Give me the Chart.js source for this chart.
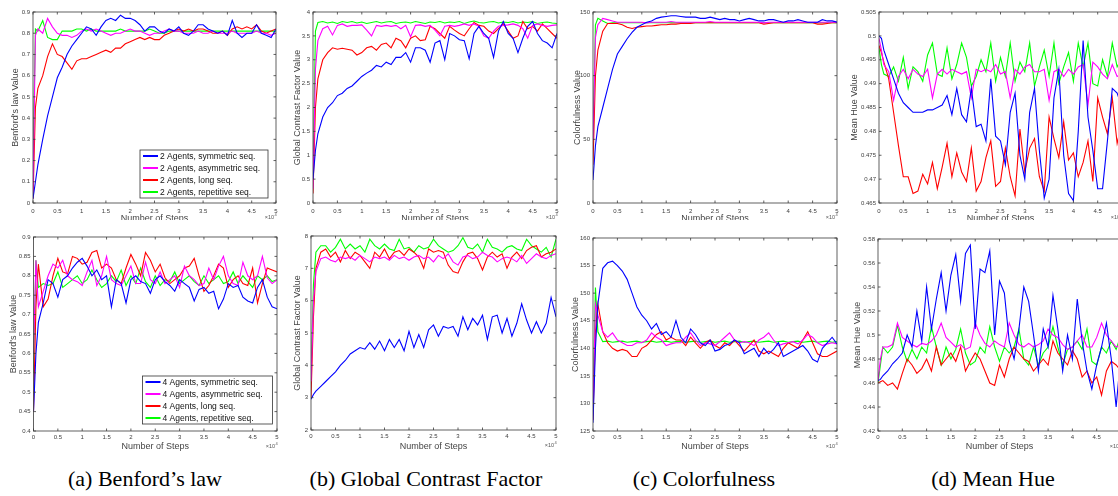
<!DOCTYPE html>
<html><head><meta charset="utf-8">
<script src="https://cdn.jsdelivr.net/npm/chart.js@4.4.1/dist/chart.umd.min.js"></script>
<style>
html,body{margin:0;padding:0;background:#fff;overflow:hidden;}
#page{position:relative;width:1118px;height:496px;overflow:hidden;background:#fff;}
#toprow{position:absolute;left:0;top:0;width:1118px;height:220px;overflow:hidden;}
canvas{position:absolute;}
.cap{position:absolute;top:466px;font-family:"Liberation Serif","Times New Roman",serif;font-size:22px;color:#000;white-space:nowrap;transform:translateX(-50%);}
</style></head>
<body><div id="page"><div id="toprow"></div>
<div class="cap" style="left:145px">(a) Benford’s law</div>
<div class="cap" style="left:426px">(b) Global Contrast Factor</div>
<div class="cap" style="left:704px">(c) Colorfulness</div>
<div class="cap" style="left:993px">(d) Mean Hue</div>
</div>
<script>
// x values (number of steps, x10^4)
const steps = [0, 0.05, 0.1, 0.2, 0.3, 0.4, 0.5, 0.6, 0.7, 0.8,
  0.9, 1.0, 1.1, 1.2, 1.3, 1.4, 1.5, 1.6, 1.7, 1.8,
  1.9, 2.0, 2.1, 2.2, 2.3, 2.4, 2.5, 2.6, 2.7, 2.8,
  2.9, 3.0, 3.1, 3.2, 3.3, 3.4, 3.5, 3.6, 3.7, 3.8,
  3.9, 4.0, 4.1, 4.2, 4.3, 4.4, 4.5, 4.6, 4.7, 4.8,
  4.9, 5.0];
const xTicksLabel = 'Number of Steps';
const seqNames = ['symmetric seq.', 'asymmetric seq.', 'long seq.', 'repetitive seq.'];

// (a) Benford's law, 2 agents
const benford2Sym = [0.02, 0.10, 0.18, 0.30, 0.41, 0.50, 0.59, 0.64, 0.70, 0.74,
  0.77, 0.80, 0.83, 0.82, 0.79, 0.83, 0.86, 0.87, 0.86, 0.885,
  0.87, 0.87, 0.86, 0.84, 0.81, 0.83, 0.83, 0.81, 0.80, 0.82,
  0.81, 0.83, 0.80, 0.79, 0.81, 0.84, 0.84, 0.82, 0.81, 0.80,
  0.81, 0.79, 0.86, 0.80, 0.78, 0.80, 0.80, 0.84, 0.80, 0.79,
  0.78, 0.82];
const benford2Asym = [0.05, 0.79, 0.82, 0.80, 0.87, 0.83, 0.80, 0.79, 0.79, 0.78,
  0.79, 0.81, 0.82, 0.81, 0.82, 0.81, 0.80, 0.79, 0.80, 0.80,
  0.81, 0.82, 0.81, 0.81, 0.80, 0.79, 0.80, 0.80, 0.81, 0.82,
  0.81, 0.81, 0.80, 0.80, 0.80, 0.81, 0.80, 0.80, 0.81, 0.80,
  0.80, 0.80, 0.81, 0.80, 0.80, 0.80, 0.80, 0.81, 0.80, 0.80,
  0.79, 0.80];
const benford2Long = [0.02, 0.45, 0.54, 0.60, 0.69, 0.75, 0.70, 0.69, 0.66, 0.63,
  0.67, 0.68, 0.68, 0.69, 0.70, 0.71, 0.72, 0.71, 0.73, 0.73,
  0.75, 0.76, 0.77, 0.78, 0.77, 0.78, 0.77, 0.77, 0.79, 0.80,
  0.81, 0.82, 0.81, 0.82, 0.81, 0.82, 0.82, 0.81, 0.80, 0.80,
  0.81, 0.79, 0.82, 0.83, 0.82, 0.83, 0.82, 0.84, 0.81, 0.80,
  0.81, 0.82];
const benford2Rep = [0.20, 0.82, 0.81, 0.86, 0.78, 0.77, 0.77, 0.81, 0.81, 0.81,
  0.82, 0.82, 0.81, 0.82, 0.81, 0.81, 0.81, 0.81, 0.81, 0.82,
  0.81, 0.81, 0.81, 0.81, 0.81, 0.82, 0.81, 0.80, 0.80, 0.81,
  0.81, 0.81, 0.81, 0.81, 0.81, 0.81, 0.81, 0.81, 0.81, 0.81,
  0.81, 0.81, 0.81, 0.81, 0.81, 0.81, 0.81, 0.81, 0.81, 0.81,
  0.81, 0.81];

// (b) Global Contrast Factor, 2 agents
const gcf2Sym = [0.5, 1.1, 1.45, 1.8, 2.0, 2.1, 2.25, 2.3, 2.4, 2.45,
  2.55, 2.65, 2.72, 2.78, 2.88, 2.85, 2.95, 2.9, 3.05, 3.05,
  3.15, 2.95, 3.25, 3.25, 3.2, 2.95, 3.35, 3.4, 3.0, 3.55,
  3.5, 3.42, 3.4, 3.02, 3.55, 3.7, 3.55, 3.45, 3.05, 3.6,
  3.8, 3.55, 3.45, 3.15, 3.45, 3.7, 3.8, 3.55, 3.4, 3.35,
  3.25, 3.55];
const gcf2Asym = [0.3, 2.8, 3.4, 3.65, 3.70, 3.52, 3.72, 3.75, 3.70, 3.72,
  3.72, 3.73, 3.62, 3.50, 3.72, 3.70, 3.72, 3.70, 3.72, 3.65,
  3.72, 3.48, 3.72, 3.73, 3.70, 3.72, 3.62, 3.50, 3.70, 3.72,
  3.70, 3.72, 3.75, 3.72, 3.75, 3.70, 3.50, 3.45, 3.60, 3.70,
  3.72, 3.73, 3.75, 3.72, 3.65, 3.45, 3.72, 3.75, 3.72, 3.70,
  3.72, 3.73];
const gcf2Long = [0.2, 2.0, 2.6, 3.0, 3.15, 3.25, 3.22, 3.24, 3.22, 3.20,
  3.10, 3.15, 3.25, 3.28, 3.20, 3.32, 3.35, 3.25, 3.45, 3.40,
  3.25, 3.45, 3.50, 3.40, 3.42, 3.70, 3.65, 3.55, 3.45, 3.70,
  3.62, 3.55, 3.50, 3.65, 3.78, 3.72, 3.70, 3.60, 3.55, 3.65,
  3.75, 3.60, 3.45, 3.50, 3.80, 3.65, 3.70, 3.60, 3.75, 3.65,
  3.55, 3.45];
const gcf2Rep = [0.5, 3.6, 3.78, 3.80, 3.77, 3.79, 3.76, 3.80, 3.78, 3.80,
  3.77, 3.79, 3.76, 3.78, 3.80, 3.77, 3.79, 3.80, 3.76, 3.78,
  3.79, 3.77, 3.80, 3.78, 3.76, 3.79, 3.78, 3.80, 3.77, 3.79,
  3.78, 3.80, 3.76, 3.79, 3.81, 3.78, 3.77, 3.79, 3.80, 3.77,
  3.79, 3.78, 3.80, 3.77, 3.79, 3.78, 3.80, 3.76, 3.78, 3.79,
  3.77, 3.76];

// (c) Colorfulness, 2 agents
const color2Sym = [18, 45, 60, 75, 90, 105, 117, 123, 129, 134,
  138, 140, 142, 143, 145, 146, 146.5, 147, 147, 146.5,
  146, 146, 146, 145, 145, 146, 145, 144, 145, 144,
  144, 143, 144, 145, 144, 143, 143, 144, 144, 143,
  142, 143, 143, 144, 143, 142, 142, 142, 144, 143,
  143, 142];
const color2Asym = [50, 130, 140, 145, 144, 143, 142, 142, 142, 142,
  142, 142, 141.5, 142, 142, 142, 142, 142.5, 142, 142,
  142, 142, 142, 142, 142, 142.5, 142, 142, 142, 142,
  142, 142, 142, 142, 142, 142, 141.5, 142, 142, 142,
  142, 142, 142, 142, 142, 142, 142, 142, 142, 142,
  142, 142];
const color2Long = [30, 100, 120, 135, 141, 141, 141, 140, 138, 137,
  138, 138.5, 139, 139, 139.5, 140, 140, 140.5, 140.5, 141,
  141, 141, 141.5, 141.5, 141.5, 141.5, 141.5, 141.5, 141.5, 141.5,
  141.5, 141.5, 141.5, 141.5, 141.5, 141.5, 140.5, 141, 141.5, 141.5,
  141.5, 141.5, 141.5, 141.5, 141.5, 141.5, 141.5, 140.5, 140.5, 141,
  141.5, 141.5];
const color2Rep = [50, 140, 145, 143, 141, 141.5, 141.5, 141.5, 141.5, 141.5,
  141.5, 141.5, 141.5, 141.5, 141.5, 141.5, 141.5, 141.5, 141.5, 141.5,
  141.5, 141.5, 141.5, 141.5, 141.5, 141.5, 141.5, 141.5, 141.5, 141.5,
  141.5, 141.5, 141.5, 141.5, 141.5, 141.5, 141.5, 141.5, 141.5, 141.5,
  141.5, 141.5, 141.5, 141.5, 141.5, 141.5, 141.5, 141.5, 141.5, 141.5,
  141.5, 141.5];

// (d) Mean Hue, 2 agents
const hue2Sym = [0.500, 0.4995, 0.497, 0.494, 0.491, 0.488, 0.486, 0.485, 0.484, 0.484,
  0.484, 0.4845, 0.4845, 0.485, 0.4855, 0.4875, 0.4835, 0.489, 0.4835, 0.482,
  0.489, 0.481, 0.4815, 0.478, 0.491, 0.479, 0.478, 0.473, 0.484, 0.488,
  0.475, 0.470, 0.484, 0.489, 0.476, 0.466, 0.470, 0.487, 0.493, 0.475,
  0.467, 0.4655, 0.480, 0.499, 0.483, 0.476, 0.468, 0.468, 0.478, 0.489,
  0.488, 0.485];
const hue2Asym = [0.4995, 0.497, 0.494, 0.4925, 0.4865, 0.4915, 0.493, 0.491, 0.493, 0.492,
  0.4915, 0.493, 0.487, 0.492, 0.493, 0.492, 0.493, 0.4925, 0.492, 0.4925,
  0.487, 0.493, 0.4925, 0.493, 0.4925, 0.494, 0.492, 0.4925, 0.487, 0.493,
  0.492, 0.4935, 0.494, 0.4925, 0.4925, 0.493, 0.4865, 0.4925, 0.493, 0.4915,
  0.493, 0.492, 0.4935, 0.494, 0.4855, 0.4945, 0.4935, 0.492, 0.491, 0.494,
  0.4915, 0.492];
const hue2Long = [0.498, 0.4965, 0.4945, 0.491, 0.484, 0.477, 0.4705, 0.4705, 0.467, 0.4675,
  0.471, 0.469, 0.4735, 0.468, 0.4725, 0.4775, 0.4705, 0.4755, 0.4715, 0.4695,
  0.4765, 0.4675, 0.4695, 0.4745, 0.478, 0.4685, 0.4695, 0.4765, 0.4705, 0.4665,
  0.4805, 0.4715, 0.4765, 0.4785, 0.4705, 0.4675, 0.483, 0.4785, 0.4745, 0.482,
  0.474, 0.4755, 0.4705, 0.4735, 0.478, 0.4695, 0.487, 0.483, 0.4795, 0.487,
  0.4775, 0.482];
const hue2Rep = [0.4975, 0.494, 0.492, 0.4915, 0.4935, 0.4905, 0.4955, 0.489, 0.4935, 0.4925,
  0.4905, 0.496, 0.4985, 0.492, 0.4915, 0.4975, 0.491, 0.494, 0.4985, 0.4955,
  0.4895, 0.4915, 0.495, 0.4925, 0.4985, 0.4905, 0.4955, 0.4915, 0.4985, 0.4905,
  0.4945, 0.4925, 0.4985, 0.4895, 0.4935, 0.497, 0.4915, 0.4985, 0.490, 0.4935,
  0.4965, 0.4905, 0.4985, 0.4935, 0.4985, 0.490, 0.4895, 0.495, 0.4915, 0.4985,
  0.4935, 0.4955];

// (a) Benford's law, 4 agents
const benford4Sym = [0.45, 0.60, 0.68, 0.73, 0.79, 0.78, 0.745, 0.79, 0.80, 0.82,
  0.835, 0.845, 0.825, 0.80, 0.815, 0.79, 0.80, 0.72, 0.79, 0.78,
  0.73, 0.79, 0.80, 0.785, 0.78, 0.755, 0.79, 0.80, 0.785, 0.775,
  0.76, 0.79, 0.78, 0.77, 0.735, 0.765, 0.77, 0.755, 0.76, 0.715,
  0.74, 0.78, 0.77, 0.775, 0.745, 0.735, 0.73, 0.77, 0.79, 0.745,
  0.72, 0.715];
const benford4Asym = [0.60, 0.84, 0.72, 0.76, 0.80, 0.83, 0.82, 0.84, 0.80, 0.79,
  0.785, 0.775, 0.81, 0.84, 0.775, 0.80, 0.85, 0.79, 0.78, 0.775,
  0.80, 0.825, 0.78, 0.78, 0.835, 0.79, 0.78, 0.81, 0.78, 0.79,
  0.80, 0.77, 0.825, 0.80, 0.79, 0.775, 0.78, 0.82, 0.79, 0.825,
  0.85, 0.80, 0.78, 0.775, 0.835, 0.80, 0.79, 0.80, 0.85, 0.795,
  0.78, 0.79];
const benford4Long = [0.45, 0.72, 0.83, 0.72, 0.74, 0.80, 0.845, 0.81, 0.805, 0.85,
  0.845, 0.83, 0.835, 0.86, 0.865, 0.82, 0.83, 0.82, 0.79, 0.78,
  0.82, 0.855, 0.83, 0.80, 0.86, 0.84, 0.81, 0.83, 0.795, 0.78,
  0.79, 0.80, 0.82, 0.825, 0.845, 0.80, 0.76, 0.775, 0.80, 0.83,
  0.82, 0.77, 0.79, 0.80, 0.78, 0.775, 0.82, 0.73, 0.78, 0.82,
  0.815, 0.81];
const benford4Rep = [0.55, 0.84, 0.77, 0.78, 0.775, 0.78, 0.81, 0.77, 0.78, 0.79,
  0.80, 0.78, 0.79, 0.815, 0.79, 0.77, 0.78, 0.80, 0.785, 0.815,
  0.775, 0.80, 0.78, 0.82, 0.785, 0.77, 0.80, 0.775, 0.79, 0.785,
  0.81, 0.78, 0.79, 0.80, 0.785, 0.775, 0.80, 0.78, 0.79, 0.80,
  0.78, 0.785, 0.81, 0.78, 0.80, 0.785, 0.77, 0.80, 0.79, 0.80,
  0.785, 0.79];

// (b) Global Contrast Factor, 4 agents
const gcf4Sym = [2.95, 3.1, 3.2, 3.35, 3.5, 3.65, 3.8, 4.0, 4.15, 4.35,
  4.45, 4.55, 4.5, 4.7, 4.5, 4.75, 4.45, 4.8, 4.55, 4.8,
  4.45, 5.05, 4.55, 4.95, 4.55, 5.1, 5.25, 4.9, 5.2, 5.15,
  5.2, 4.9, 5.5, 5.1, 5.45, 5.25, 5.55, 4.8, 5.5, 5.55,
  5.0, 5.45, 4.9, 5.3, 5.9, 5.4, 5.0, 5.35, 5.0, 5.3,
  6.1, 5.5];
const gcf4Asym = [3.5, 6.0, 6.9, 7.3, 7.35, 7.25, 7.2, 7.35, 7.3, 7.35,
  7.25, 7.4, 7.3, 7.2, 7.35, 7.3, 7.35, 7.25, 7.4, 7.3,
  7.35, 7.25, 7.35, 7.4, 7.3, 7.35, 7.2, 7.4, 7.3, 7.45,
  7.2, 7.1, 7.35, 7.4, 7.3, 7.35, 7.5, 7.4, 7.35, 7.2,
  7.3, 7.35, 7.3, 7.2, 7.4, 7.15, 7.3, 7.45, 7.35, 7.3,
  7.4, 7.45];
const gcf4Long = [3.0, 5.5, 7.0, 7.5, 7.6, 7.35, 7.5, 7.2, 7.55, 7.3,
  7.5, 7.4, 7.2, 7.0, 7.5, 7.35, 7.6, 7.3, 7.5, 7.55,
  7.4, 7.6, 7.5, 7.35, 7.0, 7.6, 7.5, 7.55, 7.5, 7.1,
  6.9, 6.85, 7.2, 7.45, 7.5, 7.3, 6.95, 7.35, 7.5, 7.35,
  7.45, 7.0, 7.35, 7.5, 7.3, 7.55, 7.65, 7.7, 7.35, 7.45,
  7.5, 7.6];
const gcf4Rep = [3.7, 6.5, 7.5, 7.7, 7.7, 7.5, 7.65, 7.9, 7.6, 7.75,
  7.6, 7.7, 7.5, 7.9, 7.7, 7.6, 7.75, 7.6, 7.55, 7.9,
  7.6, 7.65, 7.5, 7.7, 7.6, 7.65, 7.9, 7.7, 7.6, 7.5,
  7.55, 7.7, 7.95, 7.65, 7.6, 7.75, 7.5, 7.9, 7.65, 7.6,
  7.5, 7.65, 7.7, 7.6, 7.55, 7.9, 7.7, 7.6, 7.5, 7.65,
  7.35, 7.9];

// (c) Colorfulness, 4 agents
const color4Sym = [126.5, 140, 148, 154.5, 155.5, 155.8, 155, 154, 152.5, 150,
  147.5, 146, 145, 143.5, 144.5, 142.5, 143, 142, 145, 142,
  141, 143.5, 142.5, 141, 140.5, 141.5, 139.5, 139.8, 140.5, 140.8,
  141.5, 141, 139, 139.5, 140, 138.5, 140, 139, 139.8, 141,
  138.5, 139, 139.5, 140, 140.5, 139.5, 138, 137.5, 140, 141,
  142, 140.8];
const color4Asym = [128, 148, 146, 143, 142, 142.8, 141.5, 141, 140.5, 140.5,
  141, 141, 141.5, 142.8, 142, 141.5, 140.5, 140.8, 141, 141,
  142, 142.8, 141.5, 140.5, 141, 140.8, 140.5, 141.2, 142, 142.8,
  141.5, 141, 141.2, 141, 140.5, 141.5, 142, 142.8, 141.5, 140.5,
  140.8, 141, 141.2, 140.8, 141.5, 142.5, 142, 141, 140.5, 140.8,
  141, 140.8];
const color4Long = [127, 143, 148, 143, 141, 140, 139.5, 139.8, 139.5, 138.5,
  138.5, 140, 140.5, 141.5, 142.5, 143, 141.5, 142, 141.5, 141.5,
  140.5, 142, 141, 140, 141, 141.5, 140.5, 140, 141, 140.5,
  141.5, 140.5, 139.5, 140.5, 141.5, 139.5, 139, 139.5, 139, 138.5,
  140, 141, 140.5, 140, 141.5, 143, 141, 139, 138.5, 138.5,
  139, 139.5];
const color4Rep = [130, 151, 143, 141.2, 141.3, 141.1, 141.2, 141.3, 141.1, 141.2,
  141.3, 141.1, 141.2, 141.3, 141.1, 141.2, 141.3, 141.1, 141.2, 141.3,
  141.1, 141.2, 141.3, 141.1, 141.2, 141.3, 141.1, 141.2, 141.3, 141.1,
  141.2, 141.3, 141.1, 141.2, 141.3, 141.1, 141.2, 141.3, 141.1, 141.2,
  141.3, 141.1, 141.2, 141.3, 141.1, 141.2, 141.3, 141.1, 141.2, 141.3,
  141.1, 141.2];

// (d) Mean Hue, 4 agents
const hue4Sym = [0.462, 0.463, 0.466, 0.470, 0.476, 0.480, 0.485, 0.500, 0.490, 0.520,
  0.495, 0.540, 0.505, 0.530, 0.552, 0.520, 0.550, 0.567, 0.528, 0.568,
  0.575, 0.505, 0.555, 0.552, 0.570, 0.500, 0.545, 0.535, 0.495, 0.480,
  0.505, 0.540, 0.528, 0.500, 0.470, 0.505, 0.490, 0.533, 0.505, 0.470,
  0.500, 0.480, 0.530, 0.495, 0.470, 0.455, 0.475, 0.490, 0.510, 0.480,
  0.440, 0.485];
const hue4Asym = [0.462, 0.480, 0.490, 0.490, 0.492, 0.510, 0.498, 0.495, 0.492, 0.490,
  0.493, 0.492, 0.495, 0.500, 0.510, 0.498, 0.494, 0.490, 0.492, 0.488,
  0.490, 0.510, 0.500, 0.493, 0.490, 0.495, 0.492, 0.490, 0.510, 0.500,
  0.492, 0.490, 0.493, 0.490, 0.492, 0.495, 0.505, 0.500, 0.498, 0.492,
  0.488, 0.490, 0.495, 0.500, 0.490, 0.490, 0.498, 0.510, 0.500, 0.495,
  0.490, 0.492];
const hue4Long = [0.460, 0.461, 0.462, 0.458, 0.460, 0.455, 0.468, 0.480, 0.475, 0.468,
  0.472, 0.480, 0.470, 0.490, 0.475, 0.480, 0.485, 0.478, 0.490, 0.470,
  0.478, 0.485, 0.480, 0.470, 0.460, 0.458, 0.475, 0.465, 0.480, 0.490,
  0.485, 0.480, 0.478, 0.470, 0.475, 0.480, 0.475, 0.495, 0.485, 0.480,
  0.475, 0.487, 0.480, 0.465, 0.470, 0.460, 0.465, 0.450, 0.470, 0.478,
  0.475, 0.470];
const hue4Rep = [0.460, 0.475, 0.490, 0.485, 0.490, 0.508, 0.490, 0.478, 0.488, 0.480,
  0.490, 0.485, 0.507, 0.490, 0.475, 0.490, 0.480, 0.488, 0.505, 0.485,
  0.475, 0.478, 0.490, 0.485, 0.507, 0.490, 0.478, 0.490, 0.485, 0.490,
  0.505, 0.480, 0.475, 0.490, 0.475, 0.485, 0.490, 0.507, 0.490, 0.475,
  0.488, 0.490, 0.495, 0.488, 0.505, 0.478, 0.475, 0.490, 0.485, 0.495,
  0.488, 0.500];

const seriesColors = ['#0000ff', '#ff00ff', '#ff0000', '#00ff00'];

const rows = [
  {host: 'toprow', top: 0, bottom: 232, xTitleY: 219, tickPad: 5, expDy: 14, agents: 2},
  {host: 'page', top: 222, bottom: 460, xTitleY: 447, tickPad: 3, expDy: 15, agents: 4}
];

const panels = [
  {row: 0, ca: [33, 12, 276, 203], ylabX: 16, title: "Benford's law Value", min: 0, max: 0.9, step: 0.1,
   data: [benford2Sym, benford2Asym, benford2Long, benford2Rep], legend: [140, 150, 268, 198]},
  {row: 0, ca: [313, 12, 556.5, 203], ylabX: 298, title: 'Global Contrast Factor Value', min: 0, max: 4, step: 0.5,
   data: [gcf2Sym, gcf2Asym, gcf2Long, gcf2Rep]},
  {row: 0, ca: [593, 12, 836.5, 203], ylabX: 578, title: 'Colorfulness Value', min: 0, max: 150, step: 50,
   data: [color2Sym, color2Asym, color2Long, color2Rep]},
  {row: 0, ca: [879, 12, 1122, 203], ylabX: 855, title: 'Mean Hue Value', min: 0.465, max: 0.505, step: 0.005,
   data: [hue2Sym, hue2Asym, hue2Long, hue2Rep]},
  {row: 1, ca: [33, 237, 276, 431], ylabX: 13.5, title: "Benford's law Value", min: 0.4, max: 0.9, step: 0.05,
   data: [benford4Sym, benford4Asym, benford4Long, benford4Rep], legend: [142, 376, 272, 424]},
  {row: 1, ca: [311, 236, 556, 430], ylabX: 298, title: 'Global Contrast Factor Value', min: 2, max: 8, step: 1,
   data: [gcf4Sym, gcf4Asym, gcf4Long, gcf4Rep]},
  {row: 1, ca: [593, 238, 836.5, 431], ylabX: 576, title: 'Colorfulness Value', min: 125, max: 160, step: 5,
   data: [color4Sym, color4Asym, color4Long, color4Rep]},
  {row: 1, ca: [878, 239, 1121, 431], ylabX: 858, title: 'Mean Hue Value', min: 0.42, max: 0.58, step: 0.02,
   data: [hue4Sym, hue4Asym, hue4Long, hue4Rep]}
];

const SANS = '"Liberation Sans", Arial, Helvetica, sans-serif';
const fmt = v => String(+Number(v).toFixed(4));

const matlabBox = {
  id: 'mbox',
  afterDraw(chart, args, opts) {
    const {ctx, chartArea: a} = chart;
    const x = chart.scales.x, y = chart.scales.y;
    ctx.save();
    ctx.strokeStyle = '#3a3a3a';
    ctx.lineWidth = 0.8;
    ctx.strokeRect(a.left, a.top, a.right - a.left, a.bottom - a.top);
    const tl = 2.5;
    ctx.beginPath();
    x.ticks.forEach(t => {
      const px = x.getPixelForValue(t.value);
      ctx.moveTo(px, a.bottom); ctx.lineTo(px, a.bottom - tl);
      ctx.moveTo(px, a.top); ctx.lineTo(px, a.top + tl);
    });
    y.ticks.forEach(t => {
      const py = y.getPixelForValue(t.value);
      ctx.moveTo(a.left, py); ctx.lineTo(a.left + tl, py);
      ctx.moveTo(a.right, py); ctx.lineTo(a.right - tl, py);
    });
    ctx.stroke();
    // exponent of x axis
    ctx.fillStyle = '#555';
    ctx.textBaseline = 'middle';
    ctx.textAlign = 'right';
    ctx.font = '5.5px ' + SANS;
    ctx.fillText('×10', a.right - 2, a.bottom + opts.expDy);
    ctx.font = '4px ' + SANS;
    ctx.textAlign = 'left';
    ctx.fillText('4', a.right - 1.5, a.bottom + opts.expDy - 2);
    // legend
    if (opts.legend) {
      const [l, t, r, b] = opts.legend;
      ctx.fillStyle = '#fff';
      ctx.fillRect(l, t, r - l, b - t);
      ctx.strokeStyle = '#333';
      ctx.lineWidth = 0.8;
      ctx.strokeRect(l, t, r - l, b - t);
      const n = chart.data.datasets.length;
      const rh = (b - t) / n;
      ctx.font = '8.5px ' + SANS;
      ctx.textAlign = 'left';
      ctx.textBaseline = 'middle';
      chart.data.datasets.forEach((ds, i) => {
        const cy = t + rh * (i + 0.5);
        ctx.strokeStyle = ds.borderColor;
        ctx.lineWidth = 2;
        ctx.beginPath(); ctx.moveTo(l + 3, cy); ctx.lineTo(l + 18, cy); ctx.stroke();
        ctx.fillStyle = '#111';
        ctx.fillText(ds.label, l + 20, cy + 0.5);
      });
    }
    ctx.restore();
  }
};

panels.forEach(p => {
  const row = rows[p.row];
  const [cl, ct, cr, cb] = p.ca;
  const cvLeft = p.ylabX - 10;
  const cvRight = cr + 12;
  const cvTop = row.top, cvBottom = row.bottom;
  const W = Math.round(cvRight - cvLeft), H = cvBottom - cvTop;
  const cv = document.createElement('canvas');
  cv.width = W; cv.height = H;
  cv.style.left = cvLeft + 'px';
  cv.style.top = cvTop + 'px';
  cv.style.width = W + 'px'; cv.style.height = H + 'px';
  document.getElementById(row.host).appendChild(cv);
  const datasets = p.data.map((vals, i) => ({
    label: row.agents + ' Agents, ' + seqNames[i],
    data: steps.map((s, k) => ({x: s, y: vals[k]})),
    borderColor: seriesColors[i],
    backgroundColor: seriesColors[i],
    borderWidth: 1.1,
    pointRadius: 0,
    tension: 0,
    fill: false
  }));
  const legend = p.legend ? [p.legend[0] - cvLeft, p.legend[1] - cvTop, p.legend[2] - cvLeft, p.legend[3] - cvTop] : null;
  new Chart(cv, {
    type: 'line',
    data: {datasets},
    plugins: [matlabBox],
    options: {
      responsive: false,
      animation: false,
      devicePixelRatio: 1,
      layout: {padding: {left: 0, top: ct - cvTop, right: cvRight - cr, bottom: 0}},
      plugins: {legend: {display: false}, tooltip: {enabled: false}, mbox: {legend, expDy: row.expDy}},
      scales: {
        x: {
          type: 'linear', min: 0, max: 5,
          ticks: {stepSize: 0.5, autoSkip: false, maxRotation: 0, padding: row.tickPad,
                  font: {size: 6, family: SANS}, color: '#3c3c3c', callback: fmt},
          grid: {display: false, drawTicks: false},
          border: {display: false},
          title: {display: true, text: xTicksLabel, color: '#444', font: {size: 9, family: SANS},
                  padding: {top: 0, bottom: (cvBottom - row.xTitleY) - 5.4}},
          afterFit: s => { s.height = cvBottom - cb; }
        },
        y: {
          type: 'linear', min: p.min, max: p.max,
          ticks: {stepSize: p.step, autoSkip: false, padding: 3,
                  font: {size: 6, family: SANS}, color: '#3c3c3c', callback: fmt},
          grid: {display: false, drawTicks: false},
          border: {display: false},
          title: {display: true, text: p.title, color: '#444', font: {size: 9, family: SANS},
                  padding: {top: 4.6, bottom: 0}},
          afterFit: s => { s.width = cl - cvLeft; }
        }
      }
    }
  });
});
</script>
</body></html>
